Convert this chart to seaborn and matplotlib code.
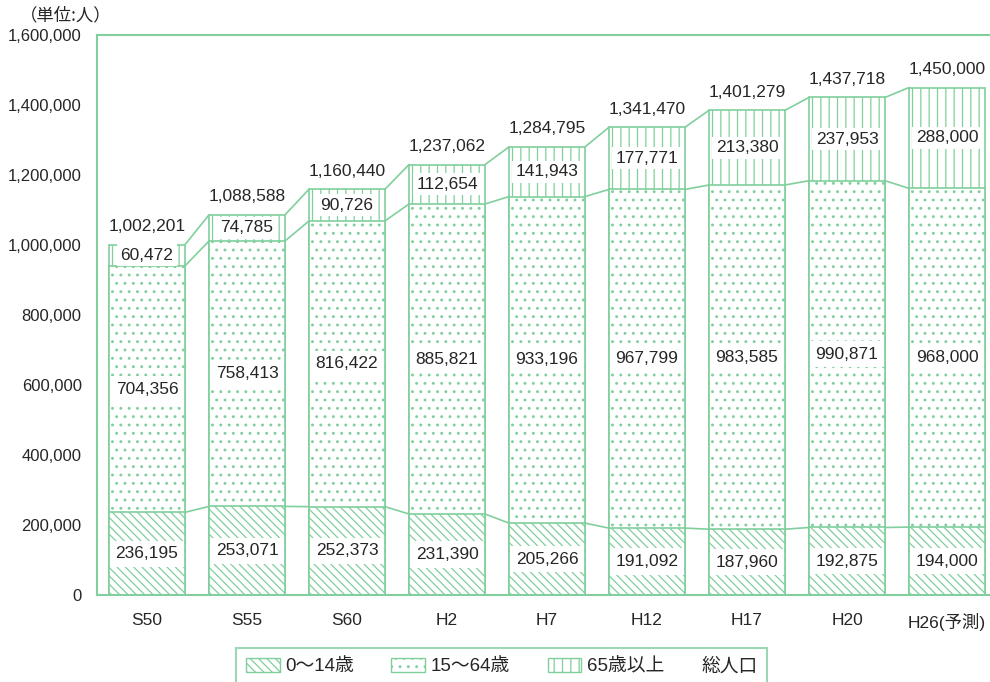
import pandas as pd
import matplotlib.pyplot as plt
import seaborn as sns
from matplotlib.patches import Patch
from matplotlib.ticker import FuncFormatter, FixedLocator

# ------------------------------
# Data
# ------------------------------
years = ["S50", "S55", "S60", "H2", "H7", "H12", "H17", "H20", "H26(予測)"]
age_0_14 = [236195, 253071, 252373, 231390, 205266, 191092, 187960, 192875, 194000]
age_15_64 = [704356, 758413, 816422, 885821, 933196, 967799, 983585, 990871, 968000]
age_65 = [60472, 74785, 90726, 112654, 141943, 177771, 213380, 237953, 288000]
total = [1002201, 1088588, 1160440, 1237062, 1284795, 1341470, 1401279, 1437718, 1450000]

df = pd.DataFrame({"year": years, "a": age_0_14, "b": age_15_64, "c": age_65, "total": total})
df["cum1"] = df["a"]
df["cum2"] = df["a"] + df["b"]
df["cum3"] = df["cum2"] + df["c"]

GREEN = "#80cf9c"
W = 0.76

sns.set_style("white")
plt.rcParams["font.family"] = ["Liberation Sans", "Noto Sans CJK JP", "DejaVu Sans"]
plt.rcParams["hatch.color"] = GREEN
plt.rcParams["hatch.linewidth"] = 0.9

fig = plt.figure(figsize=(9.9, 6.82), dpi=100)
ax = fig.add_axes([0.098, 0.1276, 0.902, 0.821])

# stacked bars drawn back to front (white faces cover the lower part)
layers = [("cum3", "||"), ("cum2", ".."), ("cum1", "\\\\\\\\")]
for col, h in layers:
    sns.barplot(data=df, x="year", y=col, order=years, color="white", edgecolor=GREEN,
                linewidth=1.2, width=W, hatch=h, saturation=1, ax=ax)

# lines connecting the bars
for col in ["cum1", "cum2", "cum3"]:
    vals = df[col].tolist()
    for i in range(len(vals) - 1):
        ax.plot([i + W / 2, i + 1 - W / 2], [vals[i], vals[i + 1]], color=GREEN, lw=1.2, zorder=3)

# value labels
FS = 12.5
box = dict(facecolor="white", edgecolor="none", pad=4)
for i, r in df.iterrows():
    ax.text(i, r["a"] / 2, f"{r['a']:,}", ha="center", va="center", fontsize=FS, bbox=box, zorder=5)
    ax.text(i, r["cum1"] + r["b"] / 2, f"{r['b']:,}", ha="center", va="center", fontsize=FS, bbox=box, zorder=5)
    ax.text(i, r["cum2"] + r["c"] / 2, f"{r['c']:,}", ha="center", va="center", fontsize=FS,
            bbox=dict(facecolor="white", edgecolor="none", pad=2.5), zorder=5)
    ax.text(i, r["cum3"] + 30000, f"{r['total']:,}", ha="center", va="bottom", fontsize=FS)

# axes styling
ax.set_xlim(-0.5, 8.43)
ax.set_ylim(0, 1600000)
ax.set_yticks(range(0, 1600001, 200000))
ax.yaxis.set_major_formatter(FuncFormatter(lambda v, p: f"{int(v):,}"))
ax.xaxis.set_minor_locator(FixedLocator([i + 0.5 for i in range(len(years) - 1)]))
ax.tick_params(axis="x", which="major", length=0, pad=13, labelsize=12.5)
ax.tick_params(axis="x", which="minor", direction="in", length=5, color=GREEN, width=1.2)
ax.tick_params(axis="y", direction="in", length=5, color=GREEN, width=1.2, pad=11, labelsize=12)
ax.set_xlabel("")
ax.set_ylabel("")
for s in ["left", "bottom", "top"]:
    ax.spines[s].set_color(GREEN)
    ax.spines[s].set_linewidth(1.5)
ax.spines["right"].set_visible(False)

fig.text(0.02, 0.99, "（単位:人）", ha="left", va="top", fontsize=12.5,
         family=["Noto Sans CJK JP", "DejaVu Sans"])

# legend
handles = [
    Patch(facecolor="white", edgecolor=GREEN, hatch="\\\\\\\\"),
    Patch(facecolor="white", edgecolor=GREEN, hatch=".."),
    Patch(facecolor="white", edgecolor=GREEN, hatch="||"),
    Patch(facecolor="none", edgecolor="none"),
]
labels = ["0～14歳", "15～64歳", "65歳以上", "総人口"]
leg = fig.legend(handles, labels, loc="lower center", bbox_to_anchor=(0.507, -0.004), ncol=4,
                 frameon=True, fancybox=False, edgecolor=GREEN, fontsize=13.5,
                 handlelength=1.8, handleheight=0.8, columnspacing=2.0, handletextpad=0.3,
                 borderpad=0.5, borderaxespad=0)
leg.get_frame().set_linewidth(1.5)
# "総人口" has no key: drop its empty handle box
last = leg._legend_handle_box.get_children()[3].get_children()[0]
last.get_children()[0].width = 0
last.sep = 0

fig.savefig("out.png", dpi=100)
